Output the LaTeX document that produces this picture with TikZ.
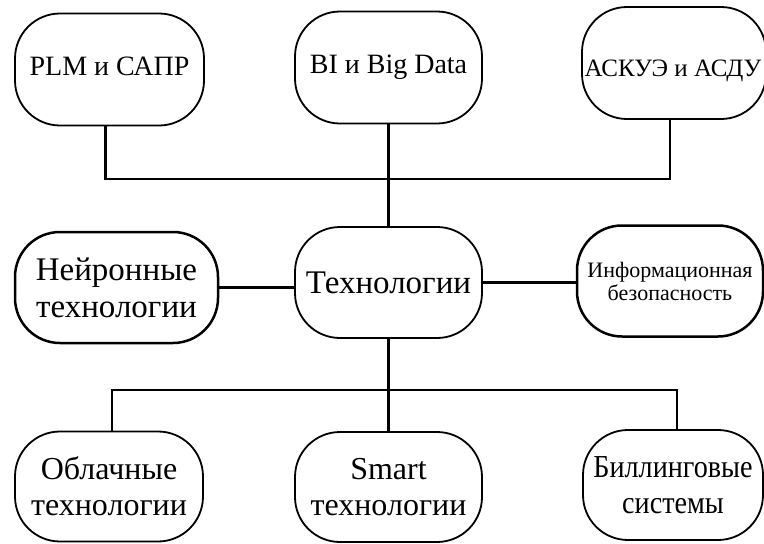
\documentclass[tikz,border=0pt]{standalone}
\usepackage{fontspec}
\setmainfont{Liberation Serif}
\newfontfamily\narrowserif[FakeStretch=0.88]{Liberation Serif}
\begin{document}
\begin{tikzpicture}[x=1pt,y=-1pt,
  box/.style={draw, line width=1.8pt, rounded corners=45pt, inner sep=0pt,
              minimum width=#1},
  box/.default=187pt,
  boldbox/.style={box=#1, line width=2.5pt},
  boldbox/.default=187pt,
  conn/.style={line width=2.6pt},
  top/.style={font=\fontsize{28}{32}\selectfont, minimum height=112pt,
              text height=19pt, text depth=7pt},
  mid/.style={align=center, font=\fontsize{33}{37}\selectfont, minimum height=111pt},
  low/.style={align=center, font=\fontsize{32}{36}\selectfont, minimum height=110pt}]
\useasboundingbox (0,0) rectangle (764,544);

% upper row
\node[box=189pt, top] (plm)   at (109.5,69.5) {PLM и САПР};
\node[box=187pt, top] (bi)    at (388.5,67.5) {BI и Big Data};
\node[box=184pt, top, font=\fontsize{25}{30}\selectfont] (askue) at (674,63)
  {\makebox[0pt]{\hspace{-2pt}\raisebox{-7pt}{АСКУЭ и АСДУ}}};

% middle row
\node[boldbox=203pt, mid] (neuro) at (116.5,287.5) {Нейронные\\технологии};
\node[box=187pt, mid]     (tech)  at (388.5,282.5) {Технологии};
\node[boldbox=186pt, mid, font=\fontsize{22}{23}\selectfont] (info) at (670,281)
  {Информационная\\безопасность};

% lower row
\node[box=188pt, low] (cloud) at (109,486.5) {Облачные\\технологии};
\node[box=187pt, low] (smart) at (388.5,487) {Smart\\технологии};
\node[box=180pt, low, font=\narrowserif\fontsize{32}{36}\selectfont] (bill)
  at (673,485) {Биллинговые\\системы};

% junctions of the bus lines
\coordinate (jtop) at (388.5,179);
\coordinate (jlow) at (388.5,390);

% upper bus
\draw[conn] ([xshift=-4pt]plm.south) |- (jtop) -| ([xshift=-4pt]askue.south);
\draw[conn] (bi.south) -- (tech.north);

% side links
\draw[conn] (neuro.east) -- (neuro.east -| tech.west);
\draw[conn] (tech.east) -- (tech.east -| info.west);

% lower bus
\draw[conn] (tech.south) -- (smart.north);
\draw[conn] ([xshift=3pt]cloud.north) |- (jlow) -| ([xshift=4pt]bill.north);
\end{tikzpicture}
\end{document}
